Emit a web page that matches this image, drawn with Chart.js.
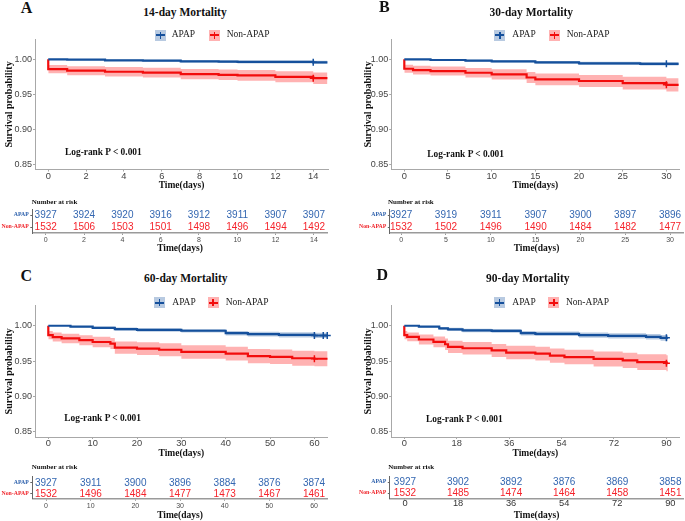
<!DOCTYPE html>
<html><head><meta charset="utf-8">
<script src="https://cdn.jsdelivr.net/npm/chart.js@4.4.1/dist/chart.umd.min.js"></script>
<style>
html,body{margin:0;padding:0;background:#fff;overflow:hidden;width:685px;height:521px;}
#root{position:relative;width:685px;height:521px;}
canvas{position:absolute;}
.t{position:absolute;white-space:nowrap;font-family:'Liberation Serif','Times New Roman',serif;color:#111;line-height:1;}
.key{position:absolute;width:11px;height:11px;}
.key i{position:absolute;display:block;}
</style></head><body><div id="root"></div>
<script>
// ---------------- DATA ----------------
const groups = ['APAP', 'Non-APAP'];
// Panel A: 14-day
const A_xTicks = [0, 2, 4, 6, 8, 10, 12, 14];
const A_apap_t = [0, 1, 3, 5, 7, 9, 10, 14, 14.75];
const A_apap_s = [1.0, 0.9995, 0.9986, 0.998, 0.9971, 0.9966, 0.9962, 0.9957, 0.9957];
const A_apap_u = [1.0, 1.0, 0.9996, 0.9994, 0.9988, 0.9985, 0.9982, 0.9978, 0.9978];
const A_apap_l = [1.0, 0.9988, 0.9975, 0.9966, 0.9954, 0.9947, 0.9941, 0.9936, 0.9936];
const A_non_t = [0, 0, 1, 3, 5, 7, 9, 10, 12, 14, 14.75];
const A_non_s = [1.0, 0.986, 0.9837, 0.9822, 0.981, 0.9788, 0.9778, 0.977, 0.975, 0.973, 0.973];
const A_non_u = [1.0, 0.9919, 0.9901, 0.9889, 0.9879, 0.9861, 0.9853, 0.9846, 0.9829, 0.9812, 0.9812];
const A_non_l = [1.0, 0.9801, 0.9773, 0.9755, 0.9741, 0.9715, 0.9703, 0.9694, 0.9671, 0.9648, 0.9648];
const A_cens_apap = [[14, 0.9957]];
const A_cens_non = [[14, 0.973]];
const A_risk_apap = [3927, 3924, 3920, 3916, 3912, 3911, 3907, 3907];
const A_risk_non = [1532, 1506, 1503, 1501, 1498, 1496, 1494, 1492];
// Panel B: 30-day
const B_xTicks = [0, 5, 10, 15, 20, 25, 30];
const B_apap_t = [0, 3, 7, 10, 15, 20, 27, 31.4];
const B_apap_s = [1.0, 0.999, 0.998, 0.9971, 0.9957, 0.9942, 0.9935, 0.9935];
const B_apap_u = [1.0, 1.0, 0.9994, 0.9988, 0.9977, 0.9966, 0.996, 0.996];
const B_apap_l = [1.0, 0.998, 0.9966, 0.9954, 0.9937, 0.9918, 0.991, 0.991];
const B_non_t = [0, 0, 1, 3, 7, 10, 14, 15, 20, 25, 30, 31.4];
const B_non_s = [1.0, 0.9865, 0.9846, 0.9832, 0.9808, 0.9784, 0.974, 0.9712, 0.969, 0.966, 0.9635, 0.9635];
const B_non_u = [1.0, 0.9923, 0.9908, 0.9897, 0.9877, 0.9857, 0.982, 0.9796, 0.9777, 0.9751, 0.9729, 0.9729];
const B_non_l = [1.0, 0.9807, 0.9784, 0.9767, 0.9739, 0.9711, 0.966, 0.9628, 0.9603, 0.9569, 0.9541, 0.9541];
const B_cens_apap = [[30, 0.9935]];
const B_cens_non = [[30, 0.9635]];
const B_risk_apap = [3927, 3919, 3911, 3907, 3900, 3897, 3896];
const B_risk_non = [1532, 1502, 1496, 1490, 1484, 1482, 1477];
// Panel C: 60-day
const C_xTicks = [0, 10, 20, 30, 40, 50, 60];
const C_apap_t = [0, 5, 10, 15, 20, 30, 40, 45, 52, 60, 63];
const C_apap_s = [1.0, 0.9986, 0.9971, 0.9952, 0.994, 0.9929, 0.9895, 0.988, 0.9871, 0.9862, 0.9862];
const C_apap_u = [1.0, 0.9998, 0.9988, 0.9974, 0.9964, 0.9955, 0.9927, 0.9914, 0.9907, 0.9899, 0.9899];
const C_apap_l = [1.0, 0.9974, 0.9954, 0.993, 0.9916, 0.9903, 0.9863, 0.9846, 0.9835, 0.9825, 0.9825];
const C_non_t = [0, 0, 1, 3, 7, 10, 14, 15, 20, 25, 30, 40, 45, 50, 55, 60, 63];
const C_non_s = [1.0, 0.9867, 0.984, 0.982, 0.9795, 0.977, 0.9748, 0.969, 0.9676, 0.966, 0.9629, 0.9605, 0.957, 0.956, 0.954, 0.9533, 0.9533];
const C_non_u = [1.0, 0.9924, 0.9903, 0.9887, 0.9866, 0.9845, 0.9827, 0.9777, 0.9765, 0.9751, 0.9724, 0.9703, 0.9672, 0.9663, 0.9646, 0.964, 0.964];
const C_non_l = [1.0, 0.981, 0.9777, 0.9753, 0.9724, 0.9695, 0.9669, 0.9603, 0.9587, 0.9569, 0.9534, 0.9507, 0.9468, 0.9457, 0.9434, 0.9426, 0.9426];
const C_cens_apap = [[60, 0.9862], [62, 0.9862], [62.9, 0.9862]];
const C_cens_non = [[60, 0.9533]];
const C_risk_apap = [3927, 3911, 3900, 3896, 3884, 3876, 3874];
const C_risk_non = [1532, 1496, 1484, 1477, 1473, 1467, 1461];
// Panel D: 90-day
const D_xTicks = [0, 18, 36, 54, 72, 90];
const D_apap_t = [0, 5, 12, 15, 20, 30, 40, 45, 60, 70, 83, 88, 90.5];
const D_apap_s = [1.0, 0.9986, 0.9962, 0.9948, 0.9933, 0.9928, 0.9895, 0.9886, 0.9867, 0.9857, 0.9843, 0.9829, 0.9829];
const D_apap_u = [1.0, 0.9998, 0.9981, 0.9971, 0.9959, 0.9954, 0.9927, 0.9919, 0.9903, 0.9894, 0.9882, 0.987, 0.987];
const D_apap_l = [1.0, 0.9974, 0.9943, 0.9925, 0.9907, 0.9902, 0.9863, 0.9853, 0.9831, 0.982, 0.9804, 0.9788, 0.9788];
const D_non_t = [0, 0, 1, 5, 10, 14, 15, 20, 30, 35, 45, 50, 55, 65, 75, 80, 90, 90.5];
const D_non_s = [1.0, 0.9867, 0.9843, 0.9805, 0.9771, 0.9738, 0.97, 0.9681, 0.965, 0.962, 0.9605, 0.9576, 0.9557, 0.953, 0.951, 0.9486, 0.947, 0.947];
const D_non_u = [1.0, 0.9924, 0.9905, 0.9875, 0.9846, 0.9818, 0.9786, 0.9769, 0.9742, 0.9716, 0.9703, 0.9677, 0.966, 0.9636, 0.9619, 0.9597, 0.9583, 0.9583];
const D_non_l = [1.0, 0.981, 0.9781, 0.9735, 0.9696, 0.9658, 0.9614, 0.9593, 0.9558, 0.9524, 0.9507, 0.9475, 0.9454, 0.9424, 0.9401, 0.9375, 0.9357, 0.9357];
const D_cens_apap = [[90, 0.9829]];
const D_cens_non = [[90, 0.947]];
const D_risk_apap = [3927, 3902, 3892, 3876, 3869, 3858];
const D_risk_non = [1532, 1485, 1474, 1464, 1458, 1451];
const yTicks = [0.85, 0.90, 0.95, 1.00];

// ---------------- STYLE ----------------
const SERIF = "'Liberation Serif','Times New Roman',serif";
const SANS = "'Liberation Sans',Arial,sans-serif";
const BLUE = '#15509c', RED = '#f20c0c';
const BLUE_BAND = 'rgba(21,80,156,0.3)', RED_BAND = 'rgba(255,0,0,0.3)';
const BLUE_TXT = '#3467b1', RED_TXT = '#f5232b';
const AXIS = '#a8a8a8';

const panels = [
  { title: '14-day Mortality', letter: 'A',
    apap: [A_apap_t, A_apap_s, A_apap_u, A_apap_l], non: [A_non_t, A_non_s, A_non_u, A_non_l],
    cens: [A_cens_apap, A_cens_non], xTicks: A_xTicks, risk: [A_risk_apap, A_risk_non],
    km: { left: 0, top: 20, w: 340, h: 175, l: 35, r: 328, t: 39.35, b: 169.55, xr: [-0.7, 14.78], tpb: 3.3, ytp: 3 },
    rt: { left: 0, top: 203, w: 340, h: 55, l: 32.3, r: 327.7, t: 209, b: 233, xr: [-0.7, 14.72], tpb: 4, big: false },
    txt: { letter: [26.5, 8.3], title: [185, 13.3], legY: 35, legX: [155, 171.7, 209, 226.7], lr: [65, 152.7], nar: [31.7, 201.7] } },
  { title: '30-day Mortality', letter: 'B',
    apap: [B_apap_t, B_apap_s, B_apap_u, B_apap_l], non: [B_non_t, B_non_s, B_non_u, B_non_l],
    cens: [B_cens_apap, B_cens_non], xTicks: B_xTicks, risk: [B_risk_apap, B_risk_non],
    km: { left: 358.5, top: 20, w: 326.5, h: 175, l: 390.7, r: 683.3, t: 39.35, b: 169.55, xr: [-1.5, 31.5], tpb: 3.3, ytp: 3 },
    rt: { left: 358.5, top: 203, w: 326.5, h: 55, l: 389.3, r: 683.3, t: 209, b: 233, xr: [-1.27, 31.48], tpb: 4, big: false },
    txt: { letter: [384.3, 7], title: [531.3, 13.3], legY: 35, legX: [494.3, 512.3, 549, 566.7], lr: [427.3, 155], nar: [388, 201.7] } },
  { title: '60-day Mortality', letter: 'C',
    apap: [C_apap_t, C_apap_s, C_apap_u, C_apap_l], non: [C_non_t, C_non_s, C_non_u, C_non_l],
    cens: [C_cens_apap, C_cens_non], xTicks: C_xTicks, risk: [C_risk_apap, C_risk_non],
    km: { left: 0, top: 286, w: 340, h: 175, l: 35, r: 327.7, t: 305.6, b: 437, xr: [-3, 63], tpb: 1.3, ytp: 3 },
    rt: { left: 0, top: 470, w: 340, h: 51, l: 32.3, r: 327.7, t: 476.8, b: 498.8, xr: [-3.07, 63.06], tpb: 0, big: false },
    txt: { letter: [26.2, 275.7], title: [185.8, 279.3], legY: 302.7, legX: [154, 172.3, 207.7, 225.7], lr: [64.3, 419.3], nar: [31.7, 467.3] } },
  { title: '90-day Mortality', letter: 'D',
    apap: [D_apap_t, D_apap_s, D_apap_u, D_apap_l], non: [D_non_t, D_non_s, D_non_u, D_non_l],
    cens: [D_cens_apap, D_cens_non], xTicks: D_xTicks, risk: [D_risk_apap, D_risk_non],
    km: { left: 358.5, top: 286, w: 326.5, h: 175, l: 390.7, r: 683.3, t: 305.6, b: 437, xr: [-4.5, 94.5], tpb: 1.3, ytp: 3 },
    rt: { left: 358.5, top: 470, w: 326.5, h: 51, l: 389.3, r: 683.3, t: 476.5, b: 498.5, xr: [-5.15, 94.4], tpb: 0, big: true },
    txt: { letter: [382.2, 275], title: [527.8, 279], legY: 302.7, legX: [494, 512.3, 548.3, 566], lr: [426, 420], nar: [388.3, 467.3] } }
];

const root = document.getElementById('root');
const pts = (xs, ys) => xs.map((x, i) => ({ x: x, y: ys[i] }));
const pairs = arr => arr.map(p => ({ x: p[0], y: p[1] }));

function mkCanvas(b) {
  const c = document.createElement('canvas');
  c.width = b.w; c.height = b.h;
  c.style.left = b.left + 'px'; c.style.top = b.top + 'px';
  c.style.width = b.w + 'px'; c.style.height = b.h + 'px';
  root.appendChild(c);
  return c;
}

function kmChart(P) {
  const k = P.km;
  const c = mkCanvas(k);
  const yw = k.l - k.left, padTop = k.t - k.top, padRight = k.left + k.w - k.r, xh = k.top + k.h - k.b;
  const stepDs = (t, v, color, width, fill, bg) => ({
    type: 'line', data: pts(t, v), borderColor: color, borderWidth: width, stepped: 'before',
    pointRadius: 0, fill: fill, backgroundColor: bg || 'rgba(0,0,0,0)'
  });
  const none = 'rgba(0,0,0,0)';
  new Chart(c, {
    type: 'line',
    data: { datasets: [
      { type: 'scatter', data: pairs(P.cens[0]), pointStyle: 'cross', pointRadius: 3.5, borderColor: BLUE, borderWidth: 1.5, clip: false },
      { type: 'scatter', data: pairs(P.cens[1]), pointStyle: 'cross', pointRadius: 3.5, borderColor: RED, borderWidth: 1.5, clip: false },
      Object.assign(stepDs(P.apap[0], P.apap[1], BLUE, 2.2, false), { label: groups[0] }),
      Object.assign(stepDs(P.non[0], P.non[1], RED, 2.2, false), { label: groups[1] }),
      stepDs(P.apap[0], P.apap[2], none, 1, false),
      stepDs(P.apap[0], P.apap[3], none, 1, '-1', BLUE_BAND),
      stepDs(P.non[0], P.non[2], none, 1, false),
      stepDs(P.non[0], P.non[3], none, 1, '-1', RED_BAND)
    ] },
    options: {
      responsive: false, animation: false, events: [], devicePixelRatio: 1,
      layout: { padding: { left: 0, top: padTop, right: padRight, bottom: 0 } },
      plugins: { legend: { display: false }, tooltip: { enabled: false }, title: { display: false } },
      scales: {
        x: { type: 'linear', min: k.xr[0], max: k.xr[1],
          afterFit: s => { s.height = xh; },
          afterBuildTicks: s => { s.ticks = P.xTicks.map(v => ({ value: v })); },
          grid: { drawOnChartArea: false, drawTicks: true, tickLength: 2, color: AXIS },
          border: { color: AXIS, width: 1 },
          ticks: { font: { family: SANS, size: 9.3, lineHeight: 1 }, color: '#444', padding: 0, maxRotation: 0, autoSkip: false },
          title: { display: true, text: 'Time(days)', font: { family: SERIF, size: 9.5, weight: 'bold' }, color: '#111', padding: { top: 0, bottom: k.tpb } } },
        y: { type: 'linear', min: 0.8425, max: 1.0285,
          afterFit: s => { s.width = yw; },
          afterBuildTicks: s => { s.ticks = yTicks.map(v => ({ value: v })); },
          grid: { drawOnChartArea: false, drawTicks: true, tickLength: 2, color: AXIS },
          border: { color: AXIS, width: 1 },
          ticks: { font: { family: SANS, size: 9 }, color: '#444', padding: 1, autoSkip: false, callback: v => Number(v).toFixed(2) },
          title: { display: true, text: 'Survival probability', font: { family: SERIF, size: 10, weight: 'bold' }, color: '#111', padding: { top: k.ytp, bottom: 0 } } }
      }
    }
  });
}

const riskNumbers = {
  id: 'riskNumbers',
  afterDatasetsDraw(chart) {
    const ctx = chart.ctx;
    chart.data.datasets.forEach((ds, di) => {
      const meta = chart.getDatasetMeta(di);
      ctx.save();
      ctx.font = '10px ' + SANS;
      ctx.fillStyle = ds.textColor;
      ctx.textAlign = 'center';
      ctx.textBaseline = 'middle';
      meta.data.forEach((el, i) => ctx.fillText(String(ds.data[i].n), el.x, el.y + 0.5));
      ctx.restore();
    });
  }
};

function riskChart(P) {
  const r = P.rt;
  const c = mkCanvas(r);
  const yw = r.l - r.left, padTop = r.t - r.top, padRight = r.left + r.w - r.r, xh = r.top + r.h - r.b;
  new Chart(c, {
    type: 'scatter',
    data: { datasets: [
      { data: P.xTicks.map((t, i) => ({ x: t, y: groups[0], n: P.risk[0][i] })), textColor: BLUE_TXT, pointRadius: 0 },
      { data: P.xTicks.map((t, i) => ({ x: t, y: groups[1], n: P.risk[1][i] })), textColor: RED_TXT, pointRadius: 0 }
    ] },
    options: {
      responsive: false, animation: false, events: [], devicePixelRatio: 1,
      layout: { padding: { left: 0, top: padTop, right: padRight, bottom: 0 } },
      plugins: { legend: { display: false }, tooltip: { enabled: false } },
      scales: {
        x: { type: 'linear', min: r.xr[0], max: r.xr[1],
          afterFit: s => { s.height = xh; },
          afterBuildTicks: s => { s.ticks = P.xTicks.map(v => ({ value: v })); },
          grid: { drawOnChartArea: false, drawTicks: true, tickLength: r.big ? 0 : 2, color: '#999' },
          border: { color: '#9a9a9a', width: 1.5 },
          ticks: r.big
            ? { font: { family: SANS, size: 9.3, lineHeight: 1 }, color: '#333', padding: 0, maxRotation: 0, autoSkip: false }
            : { font: { family: SANS, size: 7, lineHeight: 1 }, color: '#4d4d4d', padding: 1.5, maxRotation: 0, autoSkip: false },
          title: { display: true, text: 'Time(days)', font: { family: SERIF, size: 9.5, weight: 'bold' }, color: '#111', padding: { top: 0, bottom: r.tpb } } },
        y: { type: 'category', labels: groups, offset: true,
          afterFit: s => { s.width = yw; },
          grid: { drawOnChartArea: false, drawTicks: true, tickLength: 2, color: '#666', offset: false },
          border: { color: '#666', width: 1 },
          ticks: { font: { family: SERIF, size: 5.8, weight: 'bold' }, padding: 1.5, autoSkip: false,
            color: ctx => ctx.index === 0 ? '#2f62ad' : '#f0262c' }
        }
      }
    },
    plugins: [riskNumbers]
  });
}

function addText(txt, x, y, size, bold, center, color) {
  const d = document.createElement('div');
  d.className = 't';
  d.textContent = txt;
  d.style.left = x + 'px'; d.style.top = y + 'px';
  d.style.fontSize = size + 'px';
  d.style.fontWeight = bold ? 'bold' : 'normal';
  d.style.transform = center ? 'translate(-50%,-50%)' : 'translate(0,-50%)';
  if (color) d.style.color = color;
  root.appendChild(d);
}
function addKey(x, y, line, band) {
  const k = document.createElement('div');
  k.className = 'key';
  k.style.left = x + 'px'; k.style.top = (y - 5.5) + 'px'; k.style.background = band;
  const h = document.createElement('i');
  h.style.cssText = 'left:1px;right:1px;top:4.5px;height:2px;background:' + line;
  const v = document.createElement('i');
  v.style.cssText = 'left:4.75px;width:1.5px;top:2px;height:7px;background:' + line;
  k.appendChild(h); k.appendChild(v);
  root.appendChild(k);
}

panels.forEach(P => {
  kmChart(P);
  riskChart(P);
  const T = P.txt;
  addText(P.letter, T.letter[0], T.letter[1], 16, true, true);
  addText(P.title, T.title[0], T.title[1], 11.5, true, true);
  addKey(T.legX[0], T.legY, BLUE, BLUE_BAND);
  addText(groups[0], T.legX[1], T.legY, 9.5, false, false, '#222');
  addKey(T.legX[2], T.legY, RED, RED_BAND);
  addText(groups[1], T.legX[3], T.legY, 9.5, false, false, '#222');
  addText('Log-rank P < 0.001', T.lr[0], T.lr[1], 9.4, true, false);
  addText('Number at risk', T.nar[0], T.nar[1], 7, true, false);
});
</script></body></html>
